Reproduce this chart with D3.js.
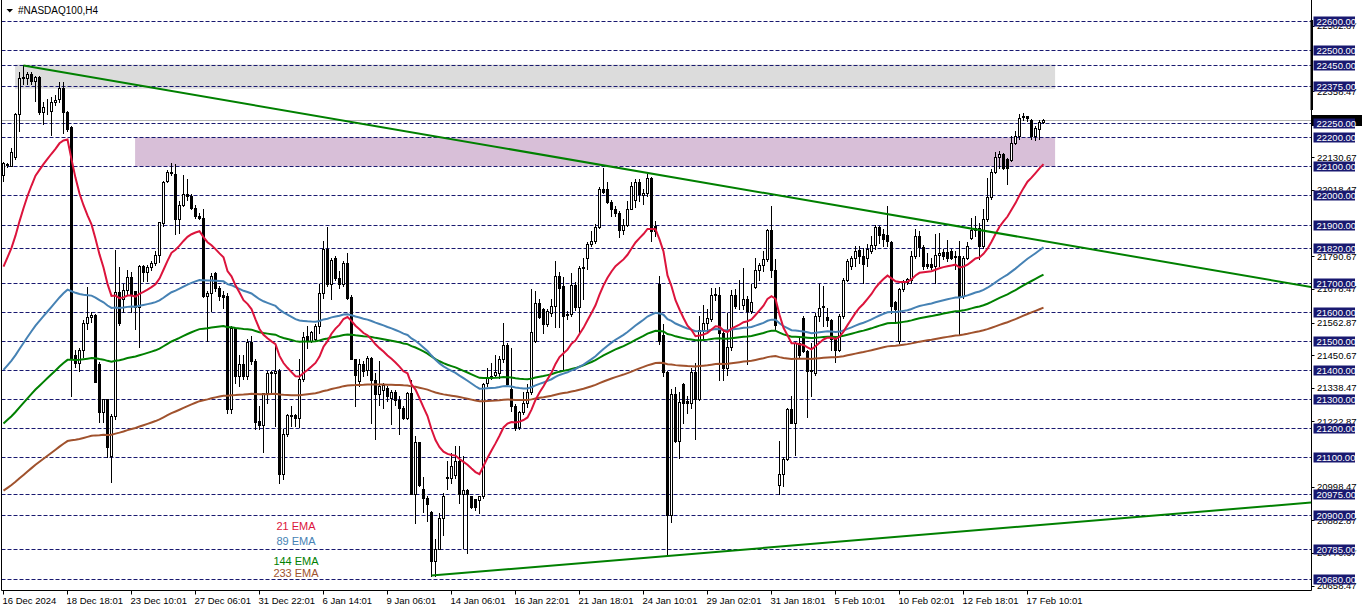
<!DOCTYPE html>
<html><head><meta charset="utf-8">
<script src="https://cdn.jsdelivr.net/npm/d3@7"></script>
<style>html,body{margin:0;padding:0;background:#fff;}svg{display:block;}text{font-family:"Liberation Sans",Arial,sans-serif;}</style>
</head><body><svg id="c" width="1362" height="611"></svg>
<script>
const title = "#NASDAQ100,H4";
const open = [22070,22105,22103,22131,22280,22403,22405,22418,22395,22406,
22288,22303,22290,22322,22332,22369,22286,22235,21450,21425,
21470,21560,21583,21590,21420,21257,21300,21105,21243,21667,
21644,21675,21720,21670,21616,21757,21738,21753,21768,21796,
21905,22050,22078,22075,21920,21966,22006,21998,21958,21930,
21922,21654,21665,21733,21683,21658,21654,21265,21545,21379,
21420,21379,21497,21431,21224,21210,21320,21390,21388,21396,
21041,21179,21240,21244,21233,21368,21515,21500,21508,21551,
21666,21815,21694,21786,21717,21694,21768,21650,21438,21361,
21420,21400,21442,21367,21316,21330,21338,21304,21325,21298,
21270,21235,21319,20974,21152,20990,20960,20911,20743,20785,
20892,21028,21030,21037,21086,20975,20987,20966,20955,20952,
20966,21356,21372,21382,21390,21436,21487,21335,21277,21203,
21254,21285,21323,21501,21630,21610,21558,21596,21619,21724,
21687,21588,21594,21692,21615,21749,21786,21832,21844,21890,
22022,22022,21978,21955,21940,21882,21898,21955,21985,22047,
22000,22007,22059,21896,21695,21520,21392,20901,21317,21157,
21350,21293,21287,21392,21301,21539,21562,21576,21658,21659,
21528,21407,21479,21659,21623,21625,21644,21602,21686,21743,
21762,21780,21881,21745,21005,21043,21093,21265,21217,21493,
21580,21465,21396,21390,21585,21617,21583,21573,21505,21470,
21585,21711,21757,21786,21814,21792,21786,21809,21828,21893,
21866,21863,21840,21633,21498,21677,21702,21709,21792,21860,
21824,21763,21763,21757,21794,21805,21805,21809,21792,21792,
21654,21786,21855,21881,21889,21826,21918,21996,22080,22133,
22141,22124,22122,22181,22204,22270,22273,22261,22204,22227,
22252];
const high = [22115,22112,22162,22285,22424,22447,22426,22424,22412,22410,
22320,22332,22338,22345,22390,22390,22292,22240,21470,21475,
21571,21685,21600,21593,21426,21300,21300,21250,21812,21753,
21695,21742,21736,21673,21760,21760,21760,21776,21810,21910,
22051,22086,22112,22107,21981,22072,22057,22004,21966,21940,
21955,21671,21734,21737,21690,21671,21663,21551,21545,21453,
21453,21505,21517,21436,21276,21322,21396,21396,21482,21402,
21196,21247,21276,21247,21437,21530,21550,21534,21557,21694,
21843,21893,21786,21792,21740,21775,21803,21659,21438,21436,
21430,21448,21445,21390,21430,21356,21344,21330,21330,21310,
21275,21324,21367,21172,21152,21033,20968,20915,20817,20909,
20977,21086,21115,21138,21138,21103,20991,20968,20955,20968,
21356,21407,21425,21450,21447,21562,21493,21474,21283,21260,
21323,21352,21678,21672,21644,21612,21610,21644,21776,21736,
21718,21604,21732,21701,21758,21786,21839,21879,21902,22028,
22094,22045,21985,21964,21948,21919,21982,22047,22056,22056,
22022,22074,22062,21913,21722,21558,21398,21334,21340,21323,
21355,21310,21407,21424,21585,21625,21610,21682,21682,21686,
21533,21596,21676,21679,21709,21751,21654,21697,21785,21768,
21808,21883,21965,21780,21155,21102,21270,21312,21497,21513,
21586,21470,21493,21596,21694,21690,21613,21576,21516,21591,
21717,21780,21792,21826,21826,21820,21832,21860,21897,21895,
21885,21963,21843,21637,21683,21711,21717,21809,21886,21877,
21828,21803,21786,21866,21870,21815,21847,21815,21809,21843,
21792,21840,21923,21929,21906,21952,22061,22090,22149,22153,
22147,22130,22206,22221,22279,22282,22275,22264,22239,22259,
22264];
const low = [22050,22098,22100,22125,22220,22385,22385,22385,22326,22280,
22246,22280,22208,22310,22320,22216,22222,21310,21410,21395,
21445,21540,21565,21358,21220,21220,21100,21015,21232,21553,
21600,21656,21600,21541,21478,21707,21705,21742,21760,21770,
21896,22045,22070,21866,21870,21964,21986,21952,21924,21918,
21652,21498,21603,21671,21642,21614,21253,21253,21356,21345,
21368,21368,21420,21198,21198,21118,21288,21320,21207,21012,
21024,21173,21207,21207,21205,21362,21476,21495,21500,21528,
21648,21689,21645,21711,21683,21688,21644,21436,21275,21344,
21379,21384,21218,21161,21281,21270,21293,21215,21281,21178,
21230,21230,20974,20874,21000,20910,20880,20693,20693,20784,
20834,20991,21012,21029,20943,20788,20771,20926,20920,20909,
20960,21344,21368,21380,21373,21427,21344,21258,21195,21198,
21248,21271,21317,21497,21577,21527,21552,21587,21547,21547,
21403,21575,21587,21607,21524,21644,21747,21827,21836,21888,
22010,21974,21928,21930,21856,21867,21896,21953,21960,21982,
21970,21997,21844,21862,21489,21380,20762,20876,21151,21096,
21218,21253,21270,21161,21298,21505,21533,21568,21642,21367,
21367,21384,21470,21613,21608,21608,21419,21596,21682,21711,
21740,21774,21720,21539,20972,21000,21091,21217,21109,21443,
21460,21239,21310,21384,21568,21550,21550,21470,21427,21465,
21579,21705,21746,21757,21769,21700,21757,21803,21815,21838,
21826,21826,21597,21563,21492,21671,21694,21700,21786,21792,
21748,21751,21746,21700,21757,21782,21775,21780,21748,21522,
21648,21780,21849,21860,21782,21820,21912,21989,22078,22095,
22090,22038,22118,22176,22193,22259,22256,22193,22190,22193,
22250];
const close = [22110,22108,22149,22280,22403,22408,22418,22395,22406,22288,
22303,22305,22323,22330,22369,22286,22229,21438,21425,21470,
21562,21583,21590,21360,21257,21300,21135,21240,21667,21560,
21675,21720,21656,21616,21757,21738,21753,21768,21796,21908,
22048,22080,22081,21920,21966,22006,21998,21958,21929,21922,
21654,21665,21723,21683,21654,21652,21265,21545,21379,21420,
21379,21497,21431,21221,21210,21320,21390,21392,21396,21041,
21179,21244,21244,21233,21368,21514,21500,21530,21551,21666,
21815,21694,21778,21717,21694,21769,21648,21438,21384,21422,
21396,21442,21365,21316,21344,21348,21310,21325,21298,21270,
21235,21319,20974,21152,21003,20960,20940,20743,20785,20892,
20966,21032,21069,21086,20975,20987,20975,20929,20929,20966,
21353,21376,21378,21392,21436,21487,21350,21275,21199,21254,
21285,21323,21532,21630,21581,21558,21604,21619,21724,21681,
21587,21594,21692,21615,21749,21753,21832,21844,21890,22022,
22013,21978,21955,21940,21882,21898,21955,22031,22048,22005,
22007,22059,21879,21879,21500,21392,20901,21317,21157,21289,
21287,21287,21392,21301,21539,21562,21579,21659,21662,21528,
21407,21479,21659,21621,21625,21644,21602,21633,21743,21762,
21782,21881,21745,21556,21043,21093,21265,21217,21493,21450,
21465,21396,21400,21585,21613,21621,21573,21505,21470,21585,
21711,21776,21786,21809,21792,21763,21815,21828,21893,21863,
21849,21843,21620,21608,21677,21702,21713,21792,21860,21824,
21757,21757,21755,21794,21803,21792,21786,21786,21790,21654,
21786,21826,21881,21889,21826,21920,21996,22080,22133,22141,
22095,22095,22181,22206,22267,22273,22267,22204,22233,22252,
22259];
const xTickIndex = [0,16,32,48,64,80,96,112,128,144,160,176,192,208,224,240,256];
const xTickLabels = ["16 Dec 2024","18 Dec 18:01","23 Dec 10:01","27 Dec 06:01","31 Dec 22:01","6 Jan 14:01","9 Jan 06:01","14 Jan 06:01","16 Jan 22:01","21 Jan 18:01","24 Jan 10:01","29 Jan 02:01","31 Jan 18:01","5 Feb 10:01","10 Feb 02:01","12 Feb 18:01","17 Feb 10:01"];
const levelPrices = [22600,22500,22450,22375,22250,22200,22100,22000,21900,21820,21700,21600,21500,21400,21300,21200,21100,20975,20900,20785,20680];
const gridPrices = [22582.87,22358.47,22130.67,22018.47,21790.67,21678.47,21562.87,21450.67,21338.47,21222.87,20998.47,20882.87,20770.67,20658.47];
const emaNames = ["21 EMA","89 EMA","144 EMA","233 EMA"];
const emaPeriods = [21,89,144,233];
const emaSeeds = [21755,21400,21216,20985];
const emaColors = ["#dc143c","#4682b4","#008000","#a0522d"];
const zoneStart = [2.9, 32.9];
const zoneEnd = [262.9, 262.9];
const zoneTop = [22450, 22200];
const zoneBottom = [22367, 22100];
const zoneColors = ["#dcdcdc","#d8bfd8"];
const trendUpper = [[5,22447],[326.9,21685]];
const trendLower = [[107,20693],[326.9,20944]];
const bidPrice = 22259;

const W = 1362, H = 611, plotL = 1.5, plotR = 1311, plotB = 590.5;
const svg = d3.select("#c");
const n = Math.min(open.length, high.length, low.length, close.length);
const x = d3.scaleLinear().domain([0, 260]).range([3.5, 1043.5]);
const y = d3.scaleLinear().domain([20680, 22600]).range([579.3, 21]);
const navy = "#191970";

svg.append("defs").append("clipPath").attr("id","clip")
  .append("rect").attr("x",plotL).attr("y",0).attr("width",plotR-plotL).attr("height",plotB);
const g = svg.append("g").attr("clip-path","url(#clip)");

g.selectAll("rect.zone").data(zoneStart).join("rect").attr("class","zone")
  .attr("x",(d,i)=>x(d)).attr("width",(d,i)=>x(zoneEnd[i])-x(d))
  .attr("y",(d,i)=>y(zoneTop[i])).attr("height",(d,i)=>y(zoneBottom[i])-y(zoneTop[i]))
  .attr("fill",(d,i)=>zoneColors[i]);

g.selectAll("line.lvl").data(levelPrices).join("line").attr("class","lvl")
  .attr("x1",plotL).attr("x2",plotR)
  .attr("y1",d=>Math.round(y(d))+0.5).attr("y2",d=>Math.round(y(d))+0.5)
  .attr("stroke",navy).attr("stroke-width",1).attr("stroke-dasharray","4,2");

g.append("line").attr("x1",plotL).attr("x2",plotR)
  .attr("y1",Math.round(y(bidPrice))+0.5).attr("y2",Math.round(y(bidPrice))+0.5)
  .attr("stroke","#b4b4b4").attr("stroke-width",1);

const idx = d3.range(n);
const cxOf = i => Math.round(x(i)-0.5)+0.5;
g.selectAll("line.wick").data(idx).join("line").attr("class","wick")
  .attr("x1",cxOf).attr("x2",cxOf)
  .attr("y1",i=>Math.round(y(high[i]))).attr("y2",i=>Math.round(y(low[i]))+1)
  .attr("stroke","#000").attr("stroke-width",1);
g.selectAll("rect.body").data(idx).join("rect").attr("class","body")
  .each(function(i){
    const o=open[i], c=close[i], cx=cxOf(i);
    const yt=Math.round(y(Math.max(o,c))), yb=Math.round(y(Math.min(o,c)));
    const s=d3.select(this);
    if (c>=o) {
      s.attr("x",cx-1).attr("y",yt+0.5).attr("width",2).attr("height",Math.max(0,yb-yt))
       .attr("fill","#fff").attr("stroke","#000").attr("stroke-width",1);
    } else {
      s.attr("x",cx-1.5).attr("y",yt).attr("width",3).attr("height",Math.max(1,yb-yt+1)).attr("fill","#000");
    }
  });

const emaValues = emaPeriods.map((p,k)=>{
  const a = 2/(p+1); let e = emaSeeds[k];
  return close.slice(0,n).map((c,i)=>{ if(i>0) e = e + a*(c-e); return e; });
});
const line = d3.line().x((d,i)=>x(i)).y(d=>y(d));
emaValues.slice().reverse().forEach((vals,j)=>{
  const k = emaValues.length-1-j;
  g.append("path").attr("d",line(vals)).attr("fill","none")
   .attr("stroke",emaColors[k]).attr("stroke-width",2);
});

[trendUpper,trendLower].forEach(t=>{
  g.append("line").attr("x1",x(t[0][0])).attr("y1",y(t[0][1]))
   .attr("x2",x(t[1][0])).attr("y2",y(t[1][1]))
   .attr("stroke","#008000").attr("stroke-width",2);
});

const legY = [530,545,565,577];
svg.selectAll("text.leg").data(emaNames).join("text").attr("class","leg")
  .attr("x",296).attr("y",(d,i)=>legY[i]).attr("text-anchor","middle")
  .attr("font-size",11).attr("fill",(d,i)=>emaColors[i]).text(d=>d);

svg.append("path").attr("d",`M${plotL},0V${plotB}H${plotR+0.5}V0`).attr("fill","none").attr("stroke","#000").attr("stroke-width",1);

svg.append("path").attr("d","M6.5,9H13L9.75,12.5Z").attr("fill","#000");
svg.append("text").attr("x",18).attr("y",14).attr("font-size",10).attr("fill","#000").text(title);

svg.selectAll("line.gt").data(gridPrices).join("line").attr("class","gt")
  .attr("x1",plotR).attr("x2",plotR+3.5)
  .attr("y1",d=>Math.round(y(d))+0.5).attr("y2",d=>Math.round(y(d))+0.5)
  .attr("stroke","#000");
svg.selectAll("text.gl").data(gridPrices).join("text").attr("class","gl")
  .attr("x",1317).attr("y",d=>y(d)).attr("dy","0.35em")
  .attr("font-size",9.5).attr("fill","#000").text(d=>d.toFixed(2));

svg.append("rect").attr("x",plotR-0.5).attr("y",20).attr("width",2.5).attr("height",90).attr("fill","#000");
svg.append("rect").attr("x",plotR).attr("y",Math.round(y(bidPrice))-5).attr("width",W-plotR).attr("height",11).attr("fill","#000");

const lv = svg.selectAll("g.lv").data(levelPrices).join("g").attr("class","lv");
lv.append("rect").attr("x",1313.5).attr("y",d=>Math.round(y(d))-4.5).attr("width",41.5).attr("height",10).attr("fill",navy);
lv.append("text").attr("x",1316.5).attr("y",d=>Math.round(y(d))+0.5).attr("dy","0.35em")
  .attr("font-size",9.5).attr("fill","#fff").text(d=>d.toFixed(2));

svg.selectAll("line.xt").data(xTickIndex).join("line").attr("class","xt")
  .attr("x1",d=>cxOf(d)).attr("x2",d=>cxOf(d)).attr("y1",plotB).attr("y2",plotB+4).attr("stroke","#000");
svg.selectAll("text.xl").data(xTickLabels).join("text").attr("class","xl")
  .attr("x",(d,i)=>cxOf(xTickIndex[i])-1).attr("y",604)
  .attr("font-size",9.5).attr("fill","#000").text(d=>d);
</script></body></html>
